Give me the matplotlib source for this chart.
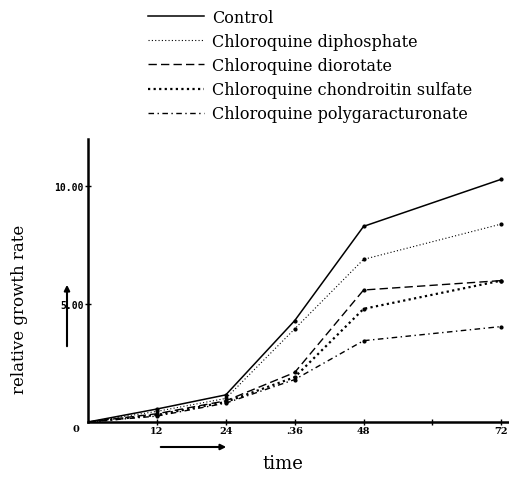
import matplotlib
matplotlib.use("Agg")
import matplotlib.pyplot as plt
import numpy as np

# time points (hours)
time = [0, 12, 24, 36, 48, 72]

# relative growth rate for each treatment
control = [0.0, 0.55, 1.15, 4.3, 8.3, 10.3]
diphosphate = [0.0, 0.45, 1.0, 3.95, 6.9, 8.4]
diorotate = [0.0, 0.35, 0.9, 2.1, 5.6, 6.0]
chondroitin = [0.0, 0.3, 0.85, 1.9, 4.8, 6.0]
polygaract = [0.0, 0.25, 0.8, 1.8, 3.45, 4.05]

labels = ["Control", "Chloroquine diphosphate", "Chloroquine diorotate",
          "Chloroquine chondroitin sulfate", "Chloroquine polygaracturonate"]

xticks = [12, 24, 36, 48, 60, 72]
xticklabels = ["12", "24", ".36", "48", "", "72"]
yticks = [5, 10]
yticklabels = ["5.00", "10.00"]

plt.rcParams['font.family'] = ['DejaVu Serif']

fig = plt.figure(figsize=(5.10, 4.81), dpi=100)
ax = fig.add_axes([0.1725, 0.1206, 0.8275, 0.588])

series = [control, diphosphate, diorotate, chondroitin, polygaract]
styles = [
    dict(linestyle="-", linewidth=1.1),
    dict(linestyle=(0, (1, 2)), linewidth=0.8),
    dict(linestyle=(0, (6, 3)), linewidth=1.0),
    dict(linestyle=(0, (1, 1.5)), linewidth=1.6),
    dict(linestyle=(0, (4, 2.5, 1, 2.5)), linewidth=1.0),
]
handles = []
for ys, st, lab in zip(series, styles, labels):
    h, = ax.plot(time, ys, color="black", marker="o", markersize=2,
                 markevery=list(range(1, len(time))), label=lab, **st)
    handles.append(h)

ax.set_xlim(0, 73.5)
ax.set_ylim(0, 12)
ax.spines["top"].set_visible(False)
ax.spines["right"].set_visible(False)
ax.spines["left"].set_linewidth(1.8)
ax.spines["bottom"].set_linewidth(1.8)
ax.set_xticks(xticks)
ax.set_xticklabels(xticklabels, fontsize=7, fontweight="bold")
ax.set_yticks(yticks)
ax.set_yticklabels(yticklabels, fontsize=7, fontfamily="DejaVu Sans Mono",
                   fontweight="bold")
ax.tick_params(direction="inout", length=4, width=1, pad=1)

# origin label
ax.text(-1.5, -0.1, "0", ha="right", va="top", fontsize=7, fontweight="bold")

ax.set_ylabel("relative growth rate", fontsize=12)
ax.yaxis.set_label_coords(-0.142, 0.40)
ax.set_xlabel("time", fontsize=13)
ax.xaxis.set_label_coords(0.462, -0.113)

# arrows next to the axes
fig.add_artist(matplotlib.patches.FancyArrowPatch(
    (67 / 510, 1 - 350 / 481), (67 / 510, 1 - 283 / 481),
    transform=fig.transFigure, arrowstyle="-|>", mutation_scale=8,
    color="black", linewidth=1.5))
fig.add_artist(matplotlib.patches.FancyArrowPatch(
    (158 / 510, 1 - 448 / 481), (229 / 510, 1 - 448 / 481),
    transform=fig.transFigure, arrowstyle="-|>", mutation_scale=8,
    color="black", linewidth=1.5))

leg = fig.legend(handles=[plt.Line2D([], [], color="black", **st) for st in styles],
                 labels=labels, loc="upper left", bbox_to_anchor=(0.262, 1.01),
                 frameon=False, fontsize=11.5, handlelength=3.5,
                 handletextpad=0.5, labelspacing=0.45)

fig.savefig("out.png", dpi=100)
